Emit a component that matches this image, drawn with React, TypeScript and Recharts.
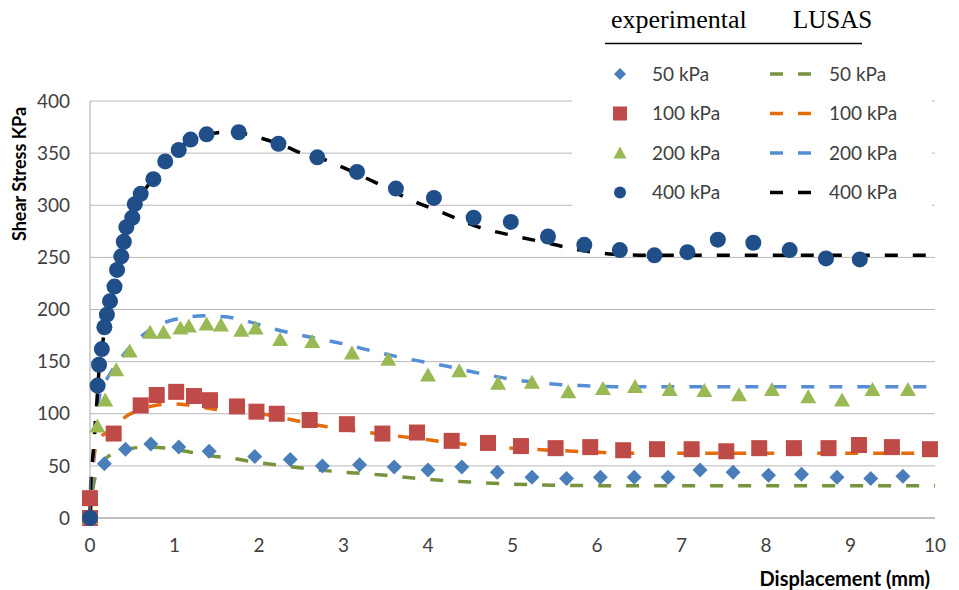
import React from 'react';
import { ComposedChart, Line, Scatter, XAxis, YAxis, CartesianGrid, Label } from 'recharts';

const xTicks = [0, 1, 2, 3, 4, 5, 6, 7, 8, 9, 10];
const yTicks = [0, 50, 100, 150, 200, 250, 300, 350, 400];
const pressureLabels = ['50 kPa', '100 kPa', '200 kPa', '400 kPa'];
const groupTitles = ['experimental', 'LUSAS'];
const xTitle = 'Displacement (mm)';
const yTitle = 'Shear Stress KPa';

// experimental points [displacement, shear stress]
const exp50: [number, number][] = [
  [0, 0], [0.17, 52], [0.42, 66], [0.72, 71], [1.05, 68], [1.41, 64], [1.95, 59], [2.37, 56],
  [2.75, 50], [3.19, 51], [3.6, 49], [4.0, 46], [4.4, 49], [4.82, 44], [5.23, 39], [5.64, 38],
  [6.04, 39], [6.44, 39], [6.84, 39], [7.22, 46], [7.61, 44], [8.03, 41], [8.42, 42], [8.84, 39],
  [9.24, 38], [9.62, 40],
];
const exp100: [number, number][] = [
  [0, 0], [0, 19], [0.28, 81], [0.6, 108], [0.79, 118], [1.02, 121], [1.23, 117], [1.42, 113],
  [1.74, 107], [1.97, 102], [2.21, 100], [2.6, 94], [3.04, 90], [3.46, 81], [3.87, 82], [4.28, 74],
  [4.71, 72], [5.1, 69], [5.51, 67], [5.92, 68], [6.31, 65], [6.71, 66], [7.12, 66], [7.53, 64],
  [7.92, 67], [8.33, 67], [8.74, 67], [9.1, 70], [9.49, 68], [9.94, 66],
];
const exp200: [number, number][] = [
  [0, 0], [0.087, 88], [0.18, 113], [0.31, 142], [0.47, 160], [0.71, 178], [0.87, 178], [1.07, 182],
  [1.17, 184], [1.38, 186], [1.55, 185], [1.79, 180], [1.96, 182], [2.25, 171], [2.63, 169],
  [3.1, 158], [3.53, 152], [4.0, 137], [4.37, 141], [4.83, 129], [5.23, 130], [5.66, 121],
  [6.07, 124], [6.45, 126], [6.86, 123], [7.27, 122], [7.68, 118], [8.07, 123], [8.5, 116],
  [8.9, 113], [9.26, 123], [9.68, 123],
];
const exp400: [number, number][] = [
  [0, 0], [0.09, 127], [0.107, 147], [0.14, 162], [0.17, 183], [0.2, 195], [0.237, 208], [0.29, 222],
  [0.32, 238], [0.37, 251], [0.4, 265], [0.43, 279], [0.5, 288], [0.53, 301], [0.6, 311],
  [0.75, 325], [0.89, 342], [1.05, 353], [1.19, 363], [1.38, 368], [1.76, 370], [2.23, 359],
  [2.69, 346], [3.16, 332], [3.62, 316], [4.07, 307], [4.54, 288], [4.98, 284], [5.42, 270],
  [5.85, 262], [6.27, 257], [6.68, 252], [7.07, 255], [7.43, 267], [7.85, 264], [8.28, 257],
  [8.71, 249], [9.11, 248],
];

// LUSAS curves [displacement, shear stress]
const lusas50: [number, number][] = [
  [0, 0], [0.03, 25], [0.07, 42], [0.12, 51], [0.2, 58], [0.35, 64], [0.5, 67], [0.7, 68],
  [0.9, 67], [1.1, 64.5], [1.4, 60], [1.7, 57], [2.0, 53], [2.3, 50], [2.6, 47], [3.0, 44],
  [3.5, 41], [4.0, 37], [4.5, 34.5], [5.0, 32.5], [5.5, 31.5], [6, 31], [7, 31], [8, 31], [9, 31], [10, 31],
];
const lusas100: [number, number][] = [
  [0, 0], [0.03, 40], [0.06, 65], [0.12, 77], [0.2, 82], [0.3, 88], [0.42, 97], [0.6, 104],
  [0.8, 108.5], [1.0, 109.5], [1.2, 108], [1.5, 104], [1.8, 102], [2.1, 99], [2.4, 94], [2.7, 89],
  [3.1, 84], [3.5, 80], [3.9, 76], [4.4, 71], [4.8, 68], [5.2, 66], [5.6, 64.5], [6.0, 63],
  [6.4, 62], [7, 62], [8, 62], [9, 62], [10, 62],
];
const lusas200: [number, number][] = [
  [0, 0], [0.03, 45], [0.06, 85], [0.1, 112], [0.15, 125], [0.25, 140], [0.4, 157], [0.55, 170],
  [0.7, 180], [0.9, 188], [1.1, 192], [1.35, 194], [1.6, 193], [1.85, 189], [2.1, 183],
  [2.4, 177], [2.7, 172], [3.0, 167], [3.4, 159], [3.8, 152], [4.2, 146], [4.6, 139], [5.0, 133],
  [5.4, 129], [5.8, 127], [6.2, 126], [7, 126], [8, 126], [9, 126], [10, 126],
];
const lusas400: [number, number][] = [
  [0, 0], [0.01, 35], [0.04, 65], [0.06, 88], [0.08, 110], [0.1, 135], [0.14, 162], [0.2, 193],
  [0.3, 224], [0.4, 262], [0.5, 289], [0.6, 308], [0.75, 326], [0.9, 342], [1.05, 354],
  [1.2, 363], [1.4, 368], [1.6, 370], [1.8, 369], [2.0, 365], [2.3, 357], [2.5, 350], [2.8, 343],
  [3.0, 336], [3.4, 321], [3.8, 305], [4.2, 292], [4.6, 279], [5.0, 271], [5.4, 264], [5.8, 257],
  [6.2, 253], [6.6, 252], [7, 252], [8, 252], [9, 252], [10, 252],
];

const toPts = (a: [number, number][]) => a.map(([x, y]) => ({ x, y }));

const FONT = 'Lato, "Open Sans", sans-serif';
const C_DIAMOND = '#4A7EBB';
const C_SQUARE = '#BE4B48';
const C_TRIANGLE = '#98B954';
const C_CIRCLE = '#1F4E89';
const C_L50 = '#77933C';
const C_L100 = '#E46C0A';
const C_L200 = '#558ED5';
const C_L400 = '#000000';

const diamondShape = (r: number, color: string) => (p: any) => (
  <polygon points={`${p.cx},${p.cy - r} ${p.cx + r},${p.cy} ${p.cx},${p.cy + r} ${p.cx - r},${p.cy}`} fill={color} />
);
const squareShape = (h: number, color: string) => (p: any) => (
  <rect x={p.cx - h} y={p.cy - h} width={2 * h} height={2 * h} fill={color} />
);
const triangleShape = (w: number, ht: number, color: string) => (p: any) => (
  <polygon points={`${p.cx},${p.cy - ht * 0.55} ${p.cx + w / 2},${p.cy + ht * 0.45} ${p.cx - w / 2},${p.cy + ht * 0.45}`} fill={color} />
);
const circleShape = (r: number, color: string) => (p: any) => (
  <circle cx={p.cx} cy={p.cy} r={r} fill={color} />
);

const dash = '13 15';

const LegendBox = () => {
  const rows = [0, 1, 2, 3];
  const rowY = [74, 113.5, 153, 192.5];
  const lineColors = [C_L50, C_L100, C_L200, C_L400];
  const mx = 48;
  return (
    <div style={{ position: 'absolute', left: 572, top: 0, width: 360, height: 224, background: '#fff' }}>
      <svg width={360} height={224} style={{ display: 'block' }}>
        <text x={39} y={28} fontFamily='"Liberation Serif", "Times New Roman", serif' fontSize={26} fill="#000">{groupTitles[0]}</text>
        <text x={221} y={28} fontFamily='"Liberation Serif", "Times New Roman", serif' fontSize={25} fill="#000">{groupTitles[1]}</text>
        <line x1={33} x2={290} y1={43.5} y2={43.5} stroke="#000" strokeWidth={1.5} />
        {rows.map((i) => {
          const cy = rowY[i];
          let marker: React.ReactNode = null;
          if (i === 0) marker = <polygon points={`${mx},${cy - 6} ${mx + 6},${cy} ${mx},${cy + 6} ${mx - 6},${cy}`} fill={C_DIAMOND} />;
          if (i === 1) marker = <rect x={mx - 7} y={cy - 7} width={14} height={14} fill={C_SQUARE} />;
          if (i === 2) marker = <polygon points={`${mx},${cy - 6.5} ${mx + 6.5},${cy + 5.5} ${mx - 6.5},${cy + 5.5}`} fill={C_TRIANGLE} />;
          if (i === 3) marker = <circle cx={mx} cy={cy} r={6} fill={C_CIRCLE} />;
          return (
            <g key={i}>
              {marker}
              <text x={80} y={cy + 6.5} fontFamily={FONT} fontSize={19} fill="#404040">{pressureLabels[i]}</text>
              <line x1={198} x2={241} y1={cy} y2={cy} stroke={lineColors[i]} strokeWidth={3.5} strokeDasharray={dash} />
              <text x={257} y={cy + 6.5} fontFamily={FONT} fontSize={19} fill="#404040">{pressureLabels[i]}</text>
            </g>
          );
        })}
      </svg>
    </div>
  );
};

export default function App() {
  return (
    <div style={{ position: 'absolute', left: 0, top: 0, width: 959, height: 590, background: '#fff' }}>
      <ComposedChart width={959} height={590} margin={{ top: 101, right: 24, bottom: 12, left: 30 }}>
        <CartesianGrid horizontal vertical={false} stroke="#b8b8b8" strokeWidth={1} />
        <XAxis
          type="number"
          dataKey="x"
          domain={[0, 10]}
          ticks={xTicks}
          interval={0}
          height={60}
          tickLine={false}
          tickSize={0}
          tickMargin={21}
          axisLine={{ stroke: '#a6a6a6' }}
          tick={{ fontFamily: FONT, fontSize: 19, fill: '#404040' }}
        >
          <Label
            content={(props: any) => {
              const vb = props.viewBox || { x: 90, y: 518, width: 845, height: 60 };
              return (
                <text x={vb.x + vb.width - 5} y={vb.y + 68} textAnchor="end" fontFamily={FONT} fontWeight="bold" fontSize={20} fill="#000">
                  {xTitle}
                </text>
              );
            }}
          />
        </XAxis>
        <YAxis
          type="number"
          dataKey="y"
          domain={[0, 400]}
          ticks={yTicks}
          interval={0}
          width={60}
          tickLine={false}
          tickSize={0}
          tickMargin={20}
          axisLine={{ stroke: '#a6a6a6' }}
          tick={{ fontFamily: FONT, fontSize: 19, fill: '#404040' }}
        >
          <Label
            content={(props: any) => {
              const vb = props.viewBox || { x: 30, y: 101, width: 60, height: 417 };
              const cx = vb.x - 11;
              const cy = vb.y + 73;
              return (
                <text x={cx} y={cy} transform={`rotate(-90 ${cx} ${cy})`} textAnchor="middle" dominantBaseline="central" fontFamily={FONT} fontWeight="bold" fontSize={18} fill="#000">
                  {yTitle}
                </text>
              );
            }}
          />
        </YAxis>
        <Line data={toPts(lusas50)} dataKey="y" type="monotone" stroke={C_L50} strokeWidth={3.5} strokeDasharray={dash} dot={false} activeDot={false} isAnimationActive={false} />
        <Line data={toPts(lusas100)} dataKey="y" type="monotone" stroke={C_L100} strokeWidth={3.5} strokeDasharray={dash} dot={false} activeDot={false} isAnimationActive={false} />
        <Line data={toPts(lusas200)} dataKey="y" type="monotone" stroke={C_L200} strokeWidth={3.5} strokeDasharray={dash} dot={false} activeDot={false} isAnimationActive={false} />
        <Line data={toPts(lusas400)} dataKey="y" type="monotone" stroke={C_L400} strokeWidth={3.5} strokeDasharray={dash} dot={false} activeDot={false} isAnimationActive={false} />
        <Scatter data={toPts(exp50)} dataKey="y" shape={diamondShape(7.5, C_DIAMOND)} isAnimationActive={false} />
        <Scatter data={toPts(exp100)} dataKey="y" shape={squareShape(8, C_SQUARE)} isAnimationActive={false} />
        <Scatter data={toPts(exp200)} dataKey="y" shape={triangleShape(16, 14, C_TRIANGLE)} isAnimationActive={false} />
        <Scatter data={toPts(exp400)} dataKey="y" shape={circleShape(8, C_CIRCLE)} isAnimationActive={false} />
      </ComposedChart>
      <LegendBox />
    </div>
  );
}
